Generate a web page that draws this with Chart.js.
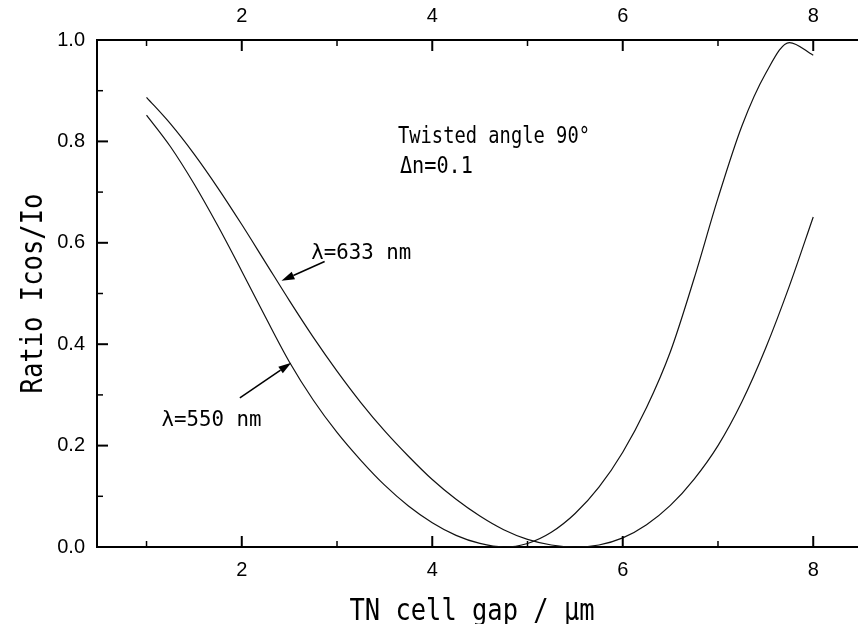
<!DOCTYPE html>
<html>
<head>
<meta charset="utf-8">
<script src="https://cdn.jsdelivr.net/npm/chart.js@4"></script>
<style>
  html, body { margin: 0; padding: 0; background: #fff; }
  #wrap { width: 858px; height: 624px; position: relative; }
</style>
</head>
<body>
<div id="wrap"><canvas id="chart"></canvas></div>
<script>
// cell gap (um)
const gap = [1, 1.25, 1.5, 1.75, 2, 2.25, 2.5, 2.75, 3, 3.25, 3.5, 3.75, 4, 4.25, 4.5,
  4.75, 5, 5.25, 5.5, 5.75, 6, 6.25, 6.5, 6.75, 7, 7.25, 7.5, 7.75, 8];

const ratio550 = [0.852, 0.790, 0.716, 0.633, 0.544, 0.453, 0.365, 0.290, 0.226, 0.171,
  0.122, 0.081, 0.048, 0.023, 0.007, 0.000, 0.007, 0.029, 0.066, 0.118, 0.187, 0.275,
  0.385, 0.530, 0.688, 0.830, 0.934, 0.995, 0.970];

const ratio633 = [0.887, 0.835, 0.775, 0.708, 0.636, 0.561, 0.486, 0.414, 0.347, 0.285,
  0.229, 0.179, 0.133, 0.094, 0.061, 0.034, 0.015, 0.004, 0.000, 0.004, 0.018, 0.044,
  0.082, 0.134, 0.200, 0.286, 0.392, 0.515, 0.651];

const xMajor = [2, 4, 6, 8];
const xMinor = [1, 3, 5, 7];
const yMajor = [0, 0.2, 0.4, 0.6, 0.8, 1.0];
const yMinor = [0.1, 0.3, 0.5, 0.7, 0.9];

const xTitle = 'TN cell gap / \u03bcm';
const yTitle = 'Ratio Icos/Io';

// notes: text, x, y (data units, left / baseline), width in px
const notes = [
  { text: 'Twisted angle 90\u00b0', x: 3.64, y: 0.797, w: 192, size: 23 },
  { text: '\u0394n=0.1', x: 3.66, y: 0.738, w: 73, size: 23 },
  { text: '\u03bb=633 nm', x: 2.73, y: 0.568, w: 100, size: 22 },
  { text: '\u03bb=550 nm', x: 1.157, y: 0.239, w: 100, size: 22 }
];

// arrows: from (x1,y1) to tip (x2,y2), data units
const arrows = [
  { x1: 2.87, y1: 0.563, x2: 2.417, y2: 0.525 },
  { x1: 1.98, y1: 0.294, x2: 2.52, y2: 0.3635 }
];

const NARROW = '"DejaVu Sans Mono", "Liberation Mono", monospace';

function narrowText(ctx, text, x, y, size, width) {
  ctx.save();
  ctx.font = size + 'px ' + NARROW;
  const w = ctx.measureText(text).width;
  ctx.translate(x, y);
  ctx.scale(width / w, 1);
  ctx.fillText(text, 0, 0);
  ctx.restore();
}

const extras = {
  id: 'extras',
  afterDraw(chart) {
    const ctx = chart.ctx;
    const { x, y } = chart.scales;
    const area = chart.chartArea;
    ctx.save();
    ctx.strokeStyle = '#000';
    ctx.fillStyle = '#000';

    // inward ticks
    const tick = (x1, y1, x2, y2, w) => {
      ctx.lineWidth = w;
      ctx.beginPath();
      ctx.moveTo(x1, y1);
      ctx.lineTo(x2, y2);
      ctx.stroke();
    };
    xMajor.forEach(v => {
      const px = x.getPixelForValue(v);
      tick(px, area.bottom, px, area.bottom - 11, 2);
      tick(px, area.top, px, area.top + 11, 2);
    });
    xMinor.forEach(v => {
      const px = x.getPixelForValue(v);
      tick(px, area.bottom, px, area.bottom - 6, 1.5);
      tick(px, area.top, px, area.top + 6, 1.5);
    });
    yMajor.forEach(v => {
      const py = y.getPixelForValue(v);
      tick(area.left, py, area.left + 11, py, 2);
    });
    yMinor.forEach(v => {
      const py = y.getPixelForValue(v);
      tick(area.left, py, area.left + 6, py, 1.5);
    });

    // notes
    ctx.textBaseline = 'alphabetic';
    ctx.textAlign = 'left';
    notes.forEach(n => {
      narrowText(ctx, n.text, x.getPixelForValue(n.x), y.getPixelForValue(n.y), n.size, n.w);
    });

    // arrows
    arrows.forEach(a => {
      const x1 = x.getPixelForValue(a.x1), y1 = y.getPixelForValue(a.y1);
      const x2 = x.getPixelForValue(a.x2), y2 = y.getPixelForValue(a.y2);
      const ang = Math.atan2(y2 - y1, x2 - x1);
      const len = 13, half = 4;
      const bx = x2 - len * Math.cos(ang), by = y2 - len * Math.sin(ang);
      ctx.lineWidth = 1.5;
      ctx.beginPath();
      ctx.moveTo(x1, y1);
      ctx.lineTo(bx, by);
      ctx.stroke();
      ctx.beginPath();
      ctx.moveTo(x2, y2);
      ctx.lineTo(bx + half * Math.sin(ang), by - half * Math.cos(ang));
      ctx.lineTo(bx - half * Math.sin(ang), by + half * Math.cos(ang));
      ctx.closePath();
      ctx.fill();
    });

    // axis titles
    const xw = 245;
    narrowText(ctx, xTitle, 472 - xw / 2, 620, 31, xw);
    ctx.save();
    ctx.translate(42, (area.top + area.bottom) / 2);
    ctx.rotate(-Math.PI / 2);
    const yw = 200;
    narrowText(ctx, yTitle, -yw / 2, 0, 31, yw);
    ctx.restore();

    ctx.restore();
  }
};

const tickFont = { family: '"Liberation Sans", Arial, sans-serif', size: 20 };

new Chart(document.getElementById('chart'), {
  type: 'line',
  data: {
    labels: gap,
    datasets: [
      {
        label: '550 nm',
        data: gap.map((g, i) => ({ x: g, y: ratio550[i] })),
        borderColor: '#111',
        borderWidth: 1.2,
        pointRadius: 0,
        cubicInterpolationMode: 'monotone',
        fill: false
      },
      {
        label: '633 nm',
        data: gap.map((g, i) => ({ x: g, y: ratio633[i] })),
        borderColor: '#111',
        borderWidth: 1.2,
        pointRadius: 0,
        cubicInterpolationMode: 'monotone',
        fill: false
      }
    ]
  },
  options: {
    responsive: true,
    maintainAspectRatio: false,
    animation: false,
    layout: { padding: 0 },
    plugins: {
      legend: { display: false },
      tooltip: { enabled: false }
    },
    scales: {
      x: {
        type: 'linear',
        position: 'bottom',
        min: 0.48,
        max: 8.47,
        afterBuildTicks: s => { s.ticks = xMajor.map(v => ({ value: v })); },
        afterFit: s => { s.height = 77; },
        grid: { display: false, drawTicks: false },
        border: { display: true, color: '#000', width: 2 },
        ticks: { color: '#000', font: tickFont, padding: 11, maxRotation: 0 }
      },
      x2: {
        type: 'linear',
        position: 'top',
        min: 0.48,
        max: 8.47,
        afterBuildTicks: s => { s.ticks = xMajor.map(v => ({ value: v })); },
        afterFit: s => { s.height = 40; },
        grid: { display: false, drawTicks: false },
        border: { display: true, color: '#000', width: 2 },
        ticks: { color: '#000', font: tickFont, padding: 12, maxRotation: 0 }
      },
      y: {
        type: 'linear',
        min: 0,
        max: 1,
        afterBuildTicks: s => { s.ticks = yMajor.map(v => ({ value: v })); },
        afterFit: s => { s.width = 97; },
        grid: { display: false, drawTicks: false },
        border: { display: true, color: '#000', width: 2 },
        ticks: { color: '#000', font: tickFont, padding: 12, callback: v => v.toFixed(1) }
      }
    }
  },
  plugins: [extras]
});
</script>
</body>
</html>
